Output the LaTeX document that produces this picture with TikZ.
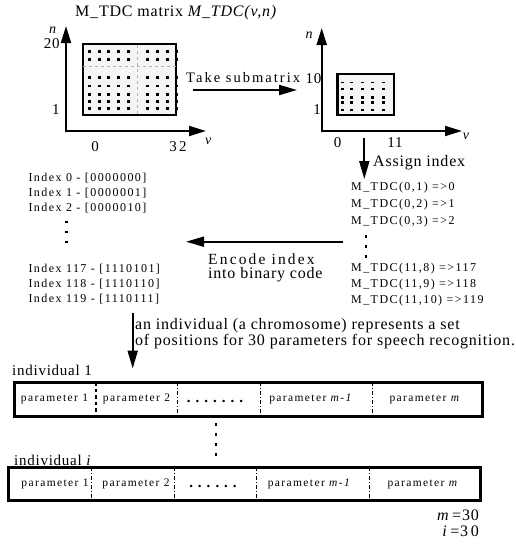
\documentclass[tikz,border=0pt]{standalone}
\usepackage{fontspec}
\setmainfont{Liberation Serif}
\newfontfamily\lsa[LetterSpace=5]{Liberation Serif}
\newfontfamily\lsb[LetterSpace=12]{Liberation Serif}
\newfontfamily\lsc[LetterSpace=14]{Liberation Serif}
\usetikzlibrary{arrows.meta}
\definecolor{matfill}{RGB}{245,245,245}
\begin{document}
\begin{tikzpicture}[x=1pt,y=-1pt,
  axis/.style={line width=2pt,-{Triangle[length=17pt,width=10pt]}},
  flow/.style={line width=2pt,-{Triangle[length=18pt,width=10pt]}},
  matbox/.style={draw,line width=2.5pt,fill=matfill},
  chrom/.style={draw,line width=3pt},
  bigtxt/.style={font=\lsa\fontsize{16}{18}\selectfont,inner sep=0pt,anchor=west},
  widetxt/.style={font=\lsc\fontsize{15.5}{18}\selectfont,inner sep=0pt,anchor=west},
  ticktxt/.style={font=\lsa\fontsize{15}{17}\selectfont,inner sep=0pt},
  listtxt/.style={font=\lsb\fontsize{12}{14}\selectfont,inner sep=0pt,anchor=west},
  partxt/.style={font=\lsb\fontsize{11.5}{14}\selectfont,inner sep=0pt},
  dotstxt/.style={font=\bfseries\fontsize{15}{17}\selectfont,inner sep=0pt},
  vdots/.style={line width=2.5pt,dash pattern=on 2.5pt off 7.5pt},
  thickdiv/.style={line width=2.2pt,dash pattern=on 3.5pt off 3pt},
  thindiv/.style={line width=0.6pt,dash pattern=on 4pt off 2pt on 1pt off 2pt},
  griddash/.style={line width=0.6pt,gray!60,dash pattern=on 3pt off 3pt}
]
\useasboundingbox (0,0) rectangle (516,547);

% title
\node[bigtxt] (title) at (75,13) {M\_TDC matrix \textit{M\_TDC(v,n)}};

% ---------- left plot ----------
\coordinate (o1) at (66,132);
\coordinate (o1x) at (66,131);
\coordinate (y1) at (66,26);
\coordinate (x1) at (206,131);
\draw[axis] (o1) -- (y1);
\draw[axis] (o1x) -- (x1);
\node[matbox,minimum width=93pt,minimum height=71pt,inner sep=0pt] (mat1) at (129.7,79.5) {};
\draw[griddash] (83,66.7) -- (176,66.7);
\draw[griddash] (137.3,45) -- (137.3,115);
\foreach \yy in {51.7,59.3,77.7,86,94.3,101.7,108.3}{
  \foreach \xx in {89.3,99.3,108.3,118.3,128.3,147.7,157.7,167.7,176.7}{
    \fill (\xx-1.25,\yy-1.25) rectangle (\xx+1.25,\yy+1.25);
  }
}
\node[ticktxt,font=\itshape\lsa\fontsize{14}{16}\selectfont] (n1) at (52.5,30.5) {n};
\node[ticktxt] (t20) at (51.7,43.5) {20};
\node[ticktxt] (t1a) at (56,110) {1};
\node[ticktxt] (t0a) at (95,146.7) {0};
\node[ticktxt] (t32) at (178,146.7) {3\,2};
\node[ticktxt,font=\itshape\lsa\fontsize{14}{16}\selectfont] (v1) at (208.3,141.7) {v};

% take submatrix
\node[widetxt,font=\lsc\fontsize{14.5}{17}\selectfont] (take) at (186,78) {Take submatrix};
\coordinate (ts) at (193,90);
\coordinate (te) at (297,90);
\draw[flow] (ts) -- (te);

% ---------- right plot ----------
\coordinate (o2) at (321.7,132);
\coordinate (o2x) at (321.7,131);
\coordinate (y2) at (321.7,28);
\coordinate (x2) at (462,131);
\draw[axis] (o2) -- (y2);
\draw[axis] (o2x) -- (x2);
\node[matbox,minimum width=56.7pt,minimum height=41pt,inner sep=0pt] (mat2) at (365.7,94.5) {};
\foreach \xx in {342.7,351.7,362.3,372.7,383.3}{
  \fill (\xx-1.5,82.2) rectangle (\xx+1.5,83.2);
  \foreach \yy in {89,97.3,102.3,110}{
    \fill (\xx-1.25,\yy-1.25) rectangle (\xx+1.25,\yy+1.25);
  }
}
\node[ticktxt,font=\itshape\lsa\fontsize{14}{16}\selectfont] (n2) at (309,35) {n};
\node[ticktxt] (t10) at (313.5,78.3) {10};
\node[ticktxt] (t1b) at (317,110) {1};
\node[ticktxt] (t0b) at (337.7,142.7) {0};
\node[ticktxt] (t11) at (395,142.7) {11};
\node[ticktxt,font=\itshape\lsa\fontsize{14}{16}\selectfont] (v2) at (466,136.7) {v};

% assign index
\coordinate (as) at (364.3,138);
\coordinate (ae) at (364.3,179);
\draw[flow] (as) -- (ae);
\node[bigtxt] (assign) at (373,163) {Assign index};

% right list
\node[listtxt] (m1) at (351,187.3) {M\_TDC(0,1) =>0};
\node[listtxt] (m2) at (351,204.3) {M\_TDC(0,2) =>1};
\node[listtxt] (m3) at (351,222) {M\_TDC(0,3) =>2};
\draw[vdots] (366,235) -- (366,260);
\node[listtxt] (m4) at (351,269) {M\_TDC(11,8) =>117};
\node[listtxt] (m5) at (351,284.7) {M\_TDC(11,9) =>118};
\node[listtxt] (m6) at (351,300.7) {M\_TDC(11,10) =>119};

% encode
\coordinate (es) at (343,241.7);
\coordinate (ee) at (186,241.7);
\draw[flow] (es) -- (ee);
\node[widetxt] (enc1) at (208,259) {Encode index};
\node[bigtxt] (enc2) at (208,275) {into binary code};

% left list
\node[listtxt] (i0) at (28.3,178.3) {Index 0 - [0000000]};
\node[listtxt] (i1) at (28.3,193.3) {Index 1 - [0000001]};
\node[listtxt] (i2) at (28.3,208.3) {Index 2 - [0000010]};
\draw[vdots] (66.7,220.5) -- (66.7,245);
\node[listtxt] (i117) at (28.3,269.3) {Index 117 - [1110101]};
\node[listtxt] (i118) at (28.3,284.3) {Index 118 - [1110110]};
\node[listtxt] (i119) at (28.3,299.3) {Index 119 - [1110111]};

% down arrow
\coordinate (ds) at (132.7,312.7);
\coordinate (de) at (132.7,368.5);
\draw[flow] (ds) -- (de);
\node[bigtxt] (desc1) at (135,326) {an individual (a chromosome) represents a set};
\node[bigtxt] (desc2) at (135,341.7) {of positions for 30 parameters for speech recognition.};

% individual 1
\node[ticktxt,anchor=west] (ind1) at (12,370) {individual 1};
\node[chrom,minimum width=468pt,minimum height=34pt,inner sep=0pt] (box1) at (248,399) {};
\draw[thickdiv] (96,382) -- (96,416);
\foreach \xx in {177.7,260,372.7}{\draw[thindiv] (\xx,382) -- (\xx,416);}
\node[partxt] (p11) at (54.5,399) {parameter 1};
\node[partxt] (p12) at (136.5,399) {parameter 2};
\node[dotstxt] (p13) at (215,401) {.\,\,.\,\,.\,\,.\,\,.\,\,.\,\,.};
\node[partxt] (p14) at (311,399) {parameter \textit{m-1}};
\node[partxt] (p15) at (425,399) {parameter \textit{m}};

\draw[vdots] (216,423) -- (216,456);

% individual i
\node[ticktxt,anchor=west] (indi) at (14,460) {individual \textit{i}};
\node[chrom,minimum width=472pt,minimum height=33pt,inner sep=0pt] (box2) at (244,483.5) {};
\foreach \xx in {91.7,174,256.7,369.3}{\draw[thindiv] (\xx,467) -- (\xx,500);}
\node[partxt] (p21) at (55,484) {parameter 1};
\node[partxt] (p22) at (136,484) {parameter 2};
\node[dotstxt] (p23) at (213,486) {.\,\,.\,\,.\,\,.\,\,.\,\,.};
\node[partxt] (p24) at (309.5,484) {parameter \textit{m-1}};
\node[partxt] (p25) at (423,484) {parameter \textit{m}};

% constants
\node[ticktxt,anchor=east,font=\lsa\fontsize{16}{18}\selectfont] (mc) at (479,515) {\textit{m}\,=30};
\node[ticktxt,anchor=east,font=\lsa\fontsize{16}{18}\selectfont] (ic) at (479,531.7) {\textit{i}\,=3\,0};
\end{tikzpicture}
\end{document}
